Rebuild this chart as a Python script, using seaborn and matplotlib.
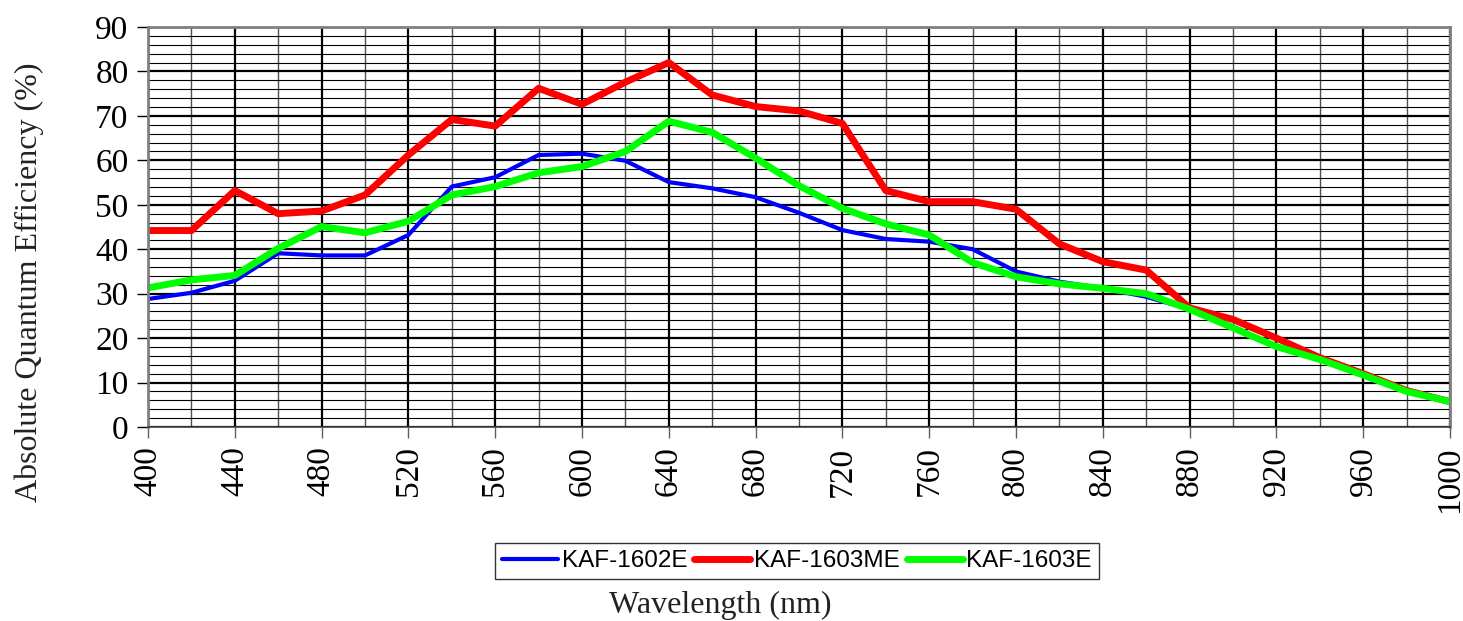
import matplotlib
matplotlib.use("Agg")
import matplotlib.pyplot as plt
import seaborn as sns
import pandas as pd
import numpy as np

wavelength = list(range(400, 1001, 20))

kaf_1602e = [28.8, 30.2, 32.9, 39.1, 38.6, 38.6, 43.2, 54.1, 56.2, 61.2, 61.5,
             59.9, 55.1, 53.7, 51.7, 48.2, 44.3, 42.3, 41.7, 40.0, 35.0, 32.7,
             31.2, 29.3, 26.5, 22.6, 18.2, 15.2, 11.7, 8.0, 5.7]
kaf_1603me = [44.2, 44.2, 53.2, 48.0, 48.6, 52.2, 61.2, 69.2, 67.7, 76.2, 72.6,
              77.6, 82.0, 74.7, 72.1, 71.1, 68.3, 53.2, 50.7, 50.7, 49.0, 41.2,
              37.2, 35.3, 26.8, 24.2, 20.0, 15.6, 12.0, 8.2, 5.7]
kaf_1603e = [31.3, 33.1, 34.1, 40.2, 45.1, 43.7, 46.3, 52.2, 54.1, 57.2, 58.6,
             62.0, 68.8, 66.3, 60.5, 54.3, 49.2, 45.7, 43.2, 37.0, 33.8, 32.2,
             31.2, 30.0, 26.5, 22.3, 18.1, 15.2, 11.7, 8.0, 5.7]

sensors = ["KAF-1602E", "KAF-1603ME", "KAF-1603E"]
colors = {"KAF-1602E": "#0000ff", "KAF-1603ME": "#ff0000", "KAF-1603E": "#00ff00"}
widths = {"KAF-1602E": 3.0, "KAF-1603ME": 5.0, "KAF-1603E": 5.0}

df = pd.DataFrame({
    "wl": wavelength * 3,
    "qe": kaf_1602e + kaf_1603me + kaf_1603e,
    "sensor": np.repeat(sensors, len(wavelength)),
})

sns.set_theme(style="white")
plt.rcParams["font.family"] = ["Liberation Serif", "DejaVu Serif"]

fig = plt.figure(figsize=(14.63, 6.21), dpi=100)
ax = fig.add_axes([148/1463, 1-427/621, 1302/1463, 400/621])

for s in sensors:
    sns.lineplot(data=df[df.sensor == s], x="wl", y="qe", color=colors[s],
                 linewidth=widths[s], label=s, ax=ax, legend=False)

ax.set_xlim(400, 1000)
ax.set_ylim(0, 90)

# gitter
for v in range(400, 1001, 20):
    if v % 40 == 0:
        ax.axvline(v, color="black", lw=1.6, zorder=0)
    else:
        ax.axvline(v, color="#505050", lw=1.0, zorder=0)
for h in range(0, 91, 2):
    if h % 10 == 0:
        ax.axhline(h, color="black", lw=1.6, zorder=0)
    else:
        ax.axhline(h, color="black", lw=0.8, zorder=0)

ax.set_xticks(range(400, 1001, 40))
ax.set_yticks(range(0, 91, 10))
ax.tick_params(axis="x", labelrotation=90, labelsize=24, length=8, width=1, color="#606060",
               direction="out", bottom=True, pad=6)
ax.tick_params(axis="y", labelsize=24, length=8, width=1, color="black", direction="out",
               left=True, pad=6)
for lbl in ax.get_xticklabels() + ax.get_yticklabels():
    lbl.set_color("black")

for side in ["top", "left", "right"]:
    ax.spines[side].set_color("#808080")
    ax.spines[side].set_linewidth(2)
ax.spines["bottom"].set_color("#404040")
ax.spines["bottom"].set_linewidth(1.2)

ax.set_xlabel("")
ax.set_ylabel("")
fig.text(29/1463, 1-282/621, "Absolute Quantum Efficiency (%)", rotation=90,
         ha="center", va="center", fontsize=23, color="#222222")
fig.text(720/1463, 1-605/621, "Wavelength (nm)", ha="center", va="center",
         fontsize=23, color="#222222")

handles, labels = ax.get_legend_handles_labels()
leg = fig.legend(handles, labels, loc="center", bbox_to_anchor=(797/1463, 1-561/621),
                 ncol=3, frameon=True, fancybox=False, edgecolor="black",
                 prop={"family": "Liberation Sans", "size": 17.5}, labelcolor="black",
                 handlelength=2.3, handletextpad=0.15, columnspacing=0.3,
                 borderpad=0.3, borderaxespad=0)
leg.get_frame().set_linewidth(1.0)
for line in leg.get_lines():
    line.set_solid_capstyle("round")

fig.savefig("out.png", dpi=100)
